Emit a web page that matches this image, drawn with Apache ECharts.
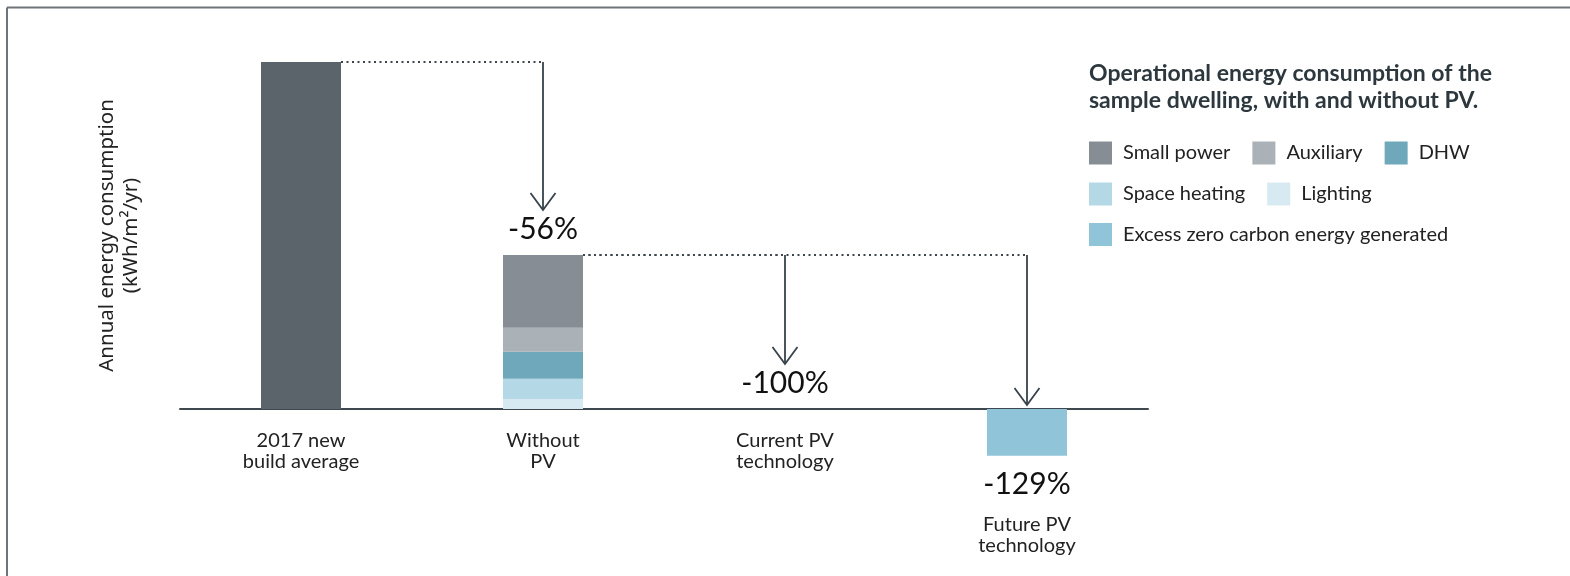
<!DOCTYPE html>
<html>
<head>
<meta charset="utf-8">
<script src="https://cdn.jsdelivr.net/npm/echarts@6/dist/echarts.min.js"></script>
<style>
  html, body { margin: 0; padding: 0; background: #ffffff; }
  #chart { width: 1570px; height: 576px; }
</style>
</head>
<body>
<div id="chart"></div>
<script>
// ---- data ----
const categories = ['2017 new\nbuild average', 'Without\nPV', 'Current PV\ntechnology', 'Future PV\ntechnology'];
const newBuildAverage = [100, null, null, null];
const lighting = [null, 2.9, null, null];
const spaceHeating = [null, 5.8, null, null];
const dhw = [null, 7.8, null, null];
const auxiliary = [null, 6.9, null, null];
const smallPower = [null, 21.0, null, null];
const excessGenerated = [null, null, null, -13.5];
const reductionLabels = [null, '-56%', '-100%', '-129%'];
const connectors = [[0, 1], [1, 2], [1, 3]];

// ---- derived totals ----
const allSeries = [newBuildAverage, lighting, spaceHeating, dhw, auxiliary, smallPower, excessGenerated];
const posTotal = categories.map((_, i) => allSeries.reduce((s, a) => s + (a[i] > 0 ? a[i] : 0), 0));
const negTotal = categories.map((_, i) => allSeries.reduce((s, a) => s + (a[i] < 0 ? a[i] : 0), 0));

const BAR_W = 80;
const FONT = 'Lato, "Noto Sans", sans-serif';
const INK = '#37424a';

const chart = echarts.init(document.getElementById('chart'), null, { renderer: 'canvas' });

function barSeries(name, data, color) {
  return {
    name, type: 'bar', stack: 'total', data, barWidth: BAR_W, clip: false,
    itemStyle: { color }, emphasis: { disabled: true }, animation: false
  };
}

const legendText = { fontSize: 20, color: '#222', fontFamily: FONT, padding: [0, 0, 0, 6] };
function legend(top, data) {
  return {
    data, left: 1089, top, padding: 0, orient: 'horizontal', icon: 'rect',
    itemWidth: 23, itemHeight: 23, itemGap: 22, textStyle: legendText,
    selectedMode: false
  };
}

const option = {
  animation: false,
  backgroundColor: '#ffffff',
  title: {
    text: 'Operational energy consumption of the\nsample dwelling, with and without PV.',
    left: 1089, top: 60, padding: 0,
    textStyle: { fontSize: 23, fontWeight: 'bold', color: '#2d383e', fontFamily: FONT, lineHeight: 27 }
  },
  legend: [
    legend(141.5, ['Small power', 'Auxiliary', 'DHW']),
    legend(182.5, ['Space heating', 'Lighting']),
    legend(223, ['Excess zero carbon energy generated'])
  ],
  grid: { left: 180, width: 968, top: 62, bottom: 167, containLabel: false },
  xAxis: {
    type: 'category', data: categories,
    axisLine: { lineStyle: { color: '#3f484e', width: 2 } },
    axisTick: { show: false },
    axisLabel: {
      margin: 21, fontSize: 20, lineHeight: 21, color: '#222', fontFamily: FONT,
      formatter: (v, i) => (negTotal[i] < 0 ? '\n\n\n\n' + v : v)
    }
  },
  yAxis: {
    type: 'value', min: 0, max: 100,
    axisLine: { show: false }, axisTick: { show: false }, axisLabel: { show: false },
    splitLine: { show: false },
    name: 'Annual energy consumption\n(kWh/m²/yr)',
    nameLocation: 'middle', nameRotate: 90, nameGap: 37,
    nameTextStyle: { fontSize: 20.5, lineHeight: 24, color: '#222', fontFamily: '"Noto Sans", sans-serif' }
  },
  graphic: [
    { type: 'line', shape: { x1: 7, y1: 7.5, x2: 1570, y2: 7.5 }, style: { stroke: '#6e7478', lineWidth: 2 } },
    { type: 'line', shape: { x1: 7, y1: 7.5, x2: 7, y2: 576 }, style: { stroke: '#6e7478', lineWidth: 2 } }
  ],
  series: [
    barSeries('2017 new build average', newBuildAverage, '#5b636b'),
    barSeries('Lighting', lighting, '#d8eaf1'),
    barSeries('Space heating', spaceHeating, '#b5d8e6'),
    barSeries('DHW', dhw, '#6fa8ba'),
    barSeries('Auxiliary', auxiliary, '#aab1b7'),
    barSeries('Small power', smallPower, '#868d95'),
    barSeries('Excess zero carbon energy generated', excessGenerated, '#90c4d8'),
    {
      name: 'connectors', type: 'custom', data: connectors, silent: true, z: 5,
      renderItem: function (params, api) {
        const from = api.value(0), to = api.value(1);
        const p0 = api.coord([from, posTotal[from]]);
        const xStart = p0[0] + BAR_W / 2, y0 = p0[1];
        const xArrow = api.coord([to, 0])[0];
        const topY = api.coord([to, posTotal[to]])[1];
        const botY = api.coord([to, negTotal[to]])[1];
        const above = negTotal[to] === 0;
        const tipY = above ? topY - 45 : topY - 4;
        const labelY = above ? topY - 26 : botY + 28;
        return {
          type: 'group',
          children: [
            { type: 'line', shape: { x1: xStart, y1: y0, x2: xArrow, y2: y0 },
              style: { stroke: '#3d464d', lineWidth: 2, lineDash: [2, 3.5] } },
            { type: 'line', shape: { x1: xArrow, y1: y0, x2: xArrow, y2: tipY },
              style: { stroke: INK, lineWidth: 1.8 } },
            { type: 'polyline', shape: { points: [[xArrow - 12.5, tipY - 17], [xArrow, tipY], [xArrow + 12.5, tipY - 17]] },
              style: { stroke: INK, lineWidth: 1.8, fill: null } },
            { type: 'text', x: xArrow, y: labelY,
              style: { text: reductionLabels[to], fontSize: 30, fontFamily: FONT, fill: '#111',
                       align: 'center', verticalAlign: 'middle' } }
          ]
        };
      }
    }
  ]
};
chart.setOption(option);
</script>
</body>
</html>
